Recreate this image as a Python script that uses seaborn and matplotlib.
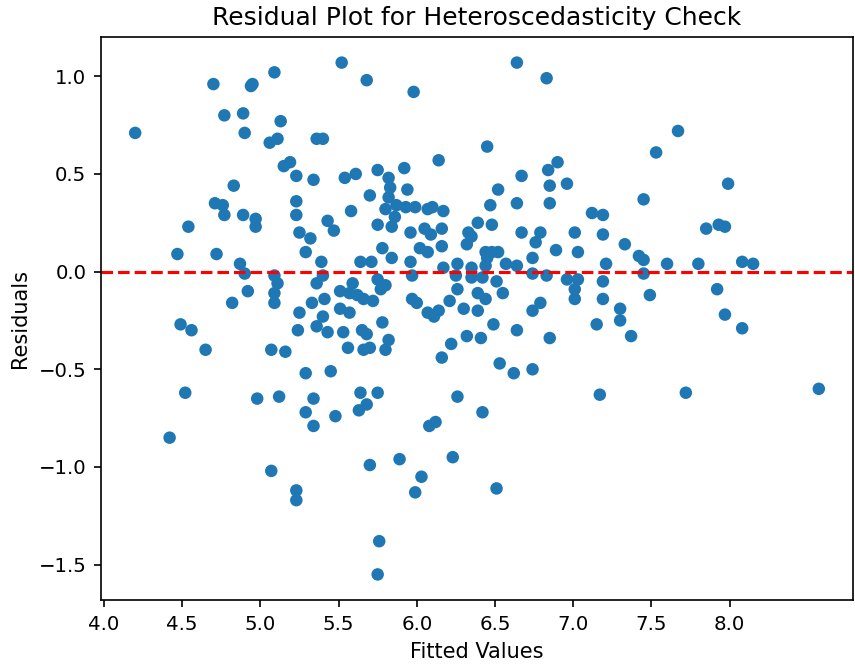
import matplotlib
matplotlib.use("Agg")
import matplotlib.pyplot as plt
import seaborn as sns
import pandas as pd

fitted = [
    4.20, 4.42, 4.47, 4.49, 4.52, 4.54, 4.56, 4.65, 4.70, 4.71, 4.76, 4.77, 4.72, 4.77, 4.82, 4.83,
    4.89, 4.90, 4.95, 4.94, 5.09, 5.13, 5.06, 5.11, 5.36, 5.40, 5.15, 5.19, 5.23, 5.34, 5.23, 5.23,
    4.89, 4.97, 4.97, 5.25, 5.32, 5.29, 5.39, 5.43, 5.47, 4.87, 4.90, 5.09, 5.11, 5.09, 5.09, 4.92,
    5.36, 5.40, 5.33, 5.41, 5.25, 5.40, 5.36, 5.43, 5.24, 5.07, 5.16, 5.29, 5.45, 4.98, 5.12, 5.34,
    5.29, 5.34, 5.48, 5.07, 5.23, 5.23,
    5.52, 5.68, 5.98, 5.54, 5.61, 5.75, 5.92, 5.82, 5.83, 5.94, 5.70, 5.58, 5.82, 5.80, 5.87, 5.93,
    5.86, 5.84, 5.99, 6.07, 5.75, 5.96, 6.02, 6.07, 5.78, 5.84, 5.64, 5.71, 5.96, 5.59, 5.51, 5.57,
    5.62, 5.75, 5.77, 5.80, 5.66, 5.72, 5.97, 5.97, 6.00, 5.51, 5.57, 5.78, 6.07, 5.53, 5.65, 5.68,
    5.56, 5.66, 5.70, 5.80, 5.82, 5.64, 5.75, 5.68, 5.63, 6.08, 5.70, 5.89, 6.03, 5.99, 5.76, 5.75,
    6.64, 6.45, 6.14, 6.67, 6.52, 6.47, 6.64, 6.10, 6.17, 6.67, 6.39, 6.48, 6.33, 6.35, 6.32, 6.05,
    6.09, 6.16, 6.16, 6.44, 6.48, 6.52, 6.45, 6.57, 6.64, 6.26, 6.17, 6.35, 6.44, 6.25, 6.26, 6.35,
    6.42, 6.51, 6.55, 6.39, 6.44, 6.21, 6.30, 6.39, 6.11, 6.14, 6.49, 6.64, 6.22, 6.32, 6.41, 6.16,
    6.53, 6.62, 6.26, 6.42, 6.12, 6.23, 6.51,
    6.83, 6.84, 6.90, 6.85, 6.96, 6.85, 7.45, 7.12, 7.19, 6.79, 6.76, 7.01, 7.19, 7.33, 6.89, 7.03,
    7.42, 7.45, 6.74, 6.74, 6.83, 7.21, 7.45, 6.96, 7.03, 7.01, 7.19, 7.19, 6.74, 6.79, 7.30, 7.49,
    7.30, 7.15, 7.01, 7.37, 6.85, 6.74, 7.17,
    7.67, 7.53, 7.99, 7.85, 7.93, 7.97, 7.60, 7.80, 8.08, 8.15, 7.92, 7.97, 8.08, 7.72, 8.57,
]

residuals = [
    0.71, -0.85, 0.09, -0.27, -0.62, 0.23, -0.30, -0.40, 0.96, 0.35, 0.34, 0.29, 0.09, 0.80, -0.16, 0.44,
    0.81, 0.71, 0.96, 0.95, 1.02, 0.77, 0.66, 0.68, 0.68, 0.68, 0.54, 0.56, 0.49, 0.47, 0.36, 0.29,
    0.29, 0.27, 0.23, 0.20, 0.17, 0.10, 0.05, 0.26, 0.21, 0.04, -0.01, -0.02, -0.06, -0.11, -0.16, -0.10,
    -0.06, -0.02, -0.16, -0.14, -0.21, -0.23, -0.28, -0.31, -0.30, -0.40, -0.41, -0.52, -0.51, -0.65, -0.64, -0.65,
    -0.72, -0.79, -0.74, -1.02, -1.12, -1.17,
    1.07, 0.98, 0.92, 0.48, 0.50, 0.52, 0.53, 0.48, 0.43, 0.42, 0.39, 0.31, 0.38, 0.32, 0.34, 0.33,
    0.28, 0.23, 0.33, 0.32, 0.24, 0.20, 0.12, 0.10, 0.12, 0.07, 0.05, 0.05, 0.05, -0.06, -0.10, -0.11,
    -0.12, -0.04, -0.09, -0.07, -0.14, -0.15, -0.02, -0.14, -0.16, -0.19, -0.21, -0.26, -0.21, -0.31, -0.30, -0.32,
    -0.39, -0.40, -0.39, -0.40, -0.35, -0.62, -0.62, -0.68, -0.71, -0.79, -0.99, -0.96, -1.05, -1.13, -1.38, -1.55,
    1.07, 0.64, 0.57, 0.49, 0.42, 0.34, 0.35, 0.33, 0.31, 0.20, 0.25, 0.24, 0.20, 0.18, 0.14, 0.22,
    0.19, 0.22, 0.13, 0.10, 0.10, 0.10, 0.07, 0.04, 0.03, 0.04, 0.02, 0.02, 0.03, -0.02, -0.09, -0.03,
    -0.03, -0.05, -0.11, -0.11, -0.14, -0.15, -0.19, -0.20, -0.23, -0.20, -0.27, -0.30, -0.37, -0.33, -0.34, -0.44,
    -0.47, -0.52, -0.64, -0.72, -0.77, -0.95, -1.11,
    0.99, 0.52, 0.56, 0.44, 0.45, 0.35, 0.37, 0.30, 0.29, 0.20, 0.15, 0.20, 0.19, 0.14, 0.11, 0.10,
    0.08, 0.06, 0.07, -0.01, -0.02, 0.04, -0.01, -0.04, -0.04, -0.09, -0.05, -0.14, -0.20, -0.16, -0.19, -0.12,
    -0.25, -0.27, -0.14, -0.33, -0.34, -0.50, -0.63,
    0.72, 0.61, 0.45, 0.22, 0.24, 0.23, 0.04, 0.04, 0.05, 0.04, -0.09, -0.22, -0.29, -0.62, -0.60,
]

x_ticks = [4.0, 4.5, 5.0, 5.5, 6.0, 6.5, 7.0, 7.5, 8.0]
y_ticks = [-1.5, -1.0, -0.5, 0.0, 0.5, 1.0]

title = "Residual Plot for Heteroscedasticity Check"
x_label = "Fitted Values"
y_label = "Residuals"

df = pd.DataFrame({"fitted": fitted, "residual": residuals})

fig = plt.figure(figsize=(5.7, 668 / 150), dpi=150)
ax = fig.add_axes([101 / 855, (668 - 600) / 668, (853 - 101) / 855, (600 - 37) / 668])
sns.scatterplot(data=df, x="fitted", y="residual", ax=ax, color="#1f77b4",
                s=36, linewidth=0, edgecolor="none")
ax.axhline(0, color="red", linestyle="--", linewidth=1.5)
ax.set_xticks(x_ticks)
ax.set_xticklabels([f"{t:.1f}" for t in x_ticks])
ax.set_yticks(y_ticks)
ax.set_yticklabels([f"{t:.1f}".replace("-", "\u2212") for t in y_ticks])
ax.tick_params(labelsize=9.5)
ax.set_title(title, fontsize=12)
ax.set_xlabel(x_label, fontsize=10)
ax.set_ylabel(y_label, fontsize=10)
fig.savefig("out.png", dpi=150)
